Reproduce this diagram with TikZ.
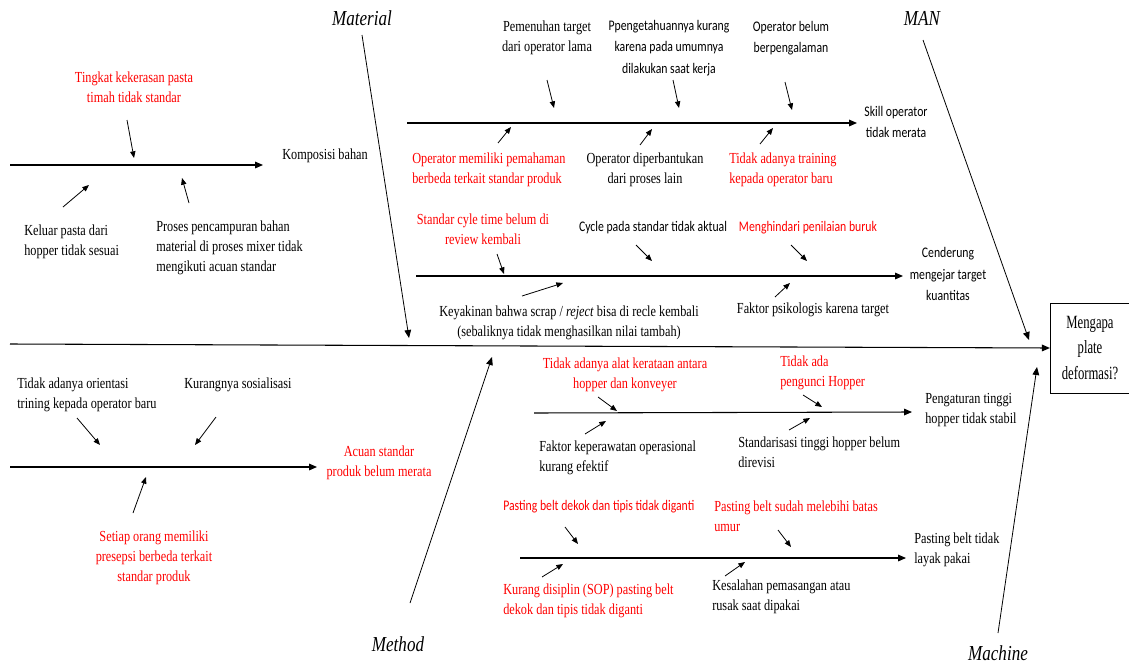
\documentclass[tikz,border=0pt]{standalone}
\usepackage{fontspec}
\setmainfont{Liberation Serif}[FakeStretch=0.8]
\newfontfamily\calib{Carlito}[FakeStretch=0.8]
\newfontfamily\boxfont{Liberation Serif}[FakeStretch=0.68]
\usetikzlibrary{arrows.meta}
\definecolor{causered}{RGB}{255,0,0}

\begin{document}
\begin{tikzpicture}[x=0.75pt,y=-0.75pt,
  spine/.style={line width=0.8pt,-{Triangle[length=6pt,width=5pt]}},
  bone/.style={line width=0.6pt,-{Triangle[length=6pt,width=5pt]}},
  sub/.style={line width=0.8pt,-{Triangle[length=6pt,width=5pt]}},
  cause/.style={line width=0.6pt,-{Triangle[length=5pt,width=4pt]}},
  txt/.style={font=\fontsize{11.5}{15}\selectfont,inner sep=0pt,align=center},
  stxt/.style={font=\calib\fontsize{11}{16}\selectfont,inner sep=0pt,align=center},
  lft/.style={anchor=west,align=left},
  hot/.style={text=causered},
  cat/.style={font=\itshape\fontsize{16}{18}\selectfont,inner sep=0pt}]
\useasboundingbox (0,0) rectangle (1129,664);

% effect box and spine
\node[draw,line width=0.6pt,minimum width=59.5pt,minimum height=67.5pt,inner sep=0pt,
  font=\boxfont\fontsize{14}{19}\selectfont,align=center] (effect) at (1090,348)
  {Mengapa\\plate\\deformasi?};
\coordinate (tail) at (10,344);
\draw[spine] (tail) -- (effect.west);

% category labels and their bones
\node[cat] (material) at (362,18) {Material};
\node[cat] (man) at (922,18) {MAN};
\node[cat] (method) at (398,644) {Method};
\node[cat] (machine) at (998,653) {Machine};
\coordinate (materialA) at (362,35);  \coordinate (materialB) at (409,338);
\coordinate (manA) at (923,40);       \coordinate (manB) at (1029,340);
\coordinate (methodA) at (410,603);   \coordinate (methodB) at (492,357);
\coordinate (machineA) at (998,633);  \coordinate (machineB) at (1037,367);
\draw[bone] (materialA) -- (materialB);
\draw[bone] (manA) -- (manB);
\draw[bone] (methodA) -- (methodB);
\draw[bone] (machineA) -- (machineB);

% Material: komposisi bahan
\node[txt,lft] (komposisi) at (282,156) {Komposisi bahan};
\node[txt,hot] (kekerasan) at (134,87) {Tingkat kekerasan pasta\\timah tidak standar};
\node[txt,lft] (keluar) at (24,242) {Keluar pasta dari\\hopper tidak sesuai};
\node[txt,lft] (pencampuran) at (156,248) {Proses pencampuran bahan\\material di proses mixer tidak\\mengikuti acuan standar};
\coordinate (k0) at (10,165);  \coordinate (k1) at (263,165);
\draw[sub] (k0) -- (k1);
\coordinate (k2) at (127,120); \coordinate (k3) at (134,158);
\coordinate (k4) at (63,207);  \coordinate (k5) at (89,185);
\coordinate (k6) at (189,203); \coordinate (k7) at (182,178);
\draw[cause] (k2) -- (k3);
\draw[cause] (k4) -- (k5);
\draw[cause] (k6) -- (k7);

% MAN: skill operator
\node[stxt] (skill) at (896,122) {Skill operator\\tidak merata};
\node[txt] (pemenuhan) at (547,38) {Pemenuhan target\\dari operator lama};
\node[stxt] (pengetahuan) at (669,48) {Ppengetahuannya kurang\\karena pada umumnya\\dilakukan saat kerja};
\node[stxt] (belum) at (791,38) {Operator belum\\berpengalaman};
\node[txt,lft,hot] (pemahaman) at (412,170) {Operator memiliki pemahaman\\berbeda terkait standar produk};
\node[txt] (diperbantukan) at (645,170) {Operator diperbantukan\\dari proses lain};
\node[txt,lft,hot] (training) at (729,170) {Tidak adanya training\\kepada operator baru};
\coordinate (s0) at (407,123); \coordinate (s1) at (857,123);
\draw[sub] (s0) -- (s1);
\coordinate (s2) at (547,80);  \coordinate (s3) at (554,108);
\coordinate (s4) at (673,80);  \coordinate (s5) at (679,108);
\coordinate (s6) at (785,82);  \coordinate (s7) at (792,110);
\coordinate (s8) at (498,143); \coordinate (s9) at (511,127);
\coordinate (s10) at (640,145); \coordinate (s11) at (652,129);
\coordinate (s12) at (760,144); \coordinate (s13) at (773,128);
\draw[cause] (s2) -- (s3);
\draw[cause] (s4) -- (s5);
\draw[cause] (s6) -- (s7);
\draw[cause] (s8) -- (s9);
\draw[cause] (s10) -- (s11);
\draw[cause] (s12) -- (s13);

% MAN: mengejar target
\node[stxt] (cenderung) at (948,274) {Cenderung\\mengejar target\\kuantitas};
\node[txt,hot] (cyletime) at (483,229) {Standar cyle time belum di\\review kembali};
\node[stxt] (aktual) at (653,228) {Cycle pada standar tidak aktual};
\node[stxt,hot] (menghindari) at (808,228) {Menghindari penilaian buruk};
\node[txt] (keyakinan) at (569,323) {Keyakinan bahwa scrap / \textit{reject} bisa di recle kembali\\(sebaliknya tidak menghasilkan nilai tambah)};
\node[txt] (psikologis) at (813,310) {Faktor psikologis karena target};
\coordinate (c0) at (416,276); \coordinate (c1) at (903,276);
\draw[sub] (c0) -- (c1);
\coordinate (c2) at (497,254); \coordinate (c3) at (504,274);
\coordinate (c4) at (636,245); \coordinate (c5) at (652,261);
\coordinate (c6) at (791,245); \coordinate (c7) at (807,261);
\coordinate (c8) at (522,296); \coordinate (c9) at (563,283);
\coordinate (c10) at (775,297); \coordinate (c11) at (790,283);
\draw[cause] (c2) -- (c3);
\draw[cause] (c4) -- (c5);
\draw[cause] (c6) -- (c7);
\draw[cause] (c8) -- (c9);
\draw[cause] (c10) -- (c11);

% Method: acuan standar
\node[txt,hot] (acuan) at (379,463) {Acuan standar\\produk belum merata};
\node[txt,lft] (orientasi) at (17,395) {Tidak adanya orientasi\\trining kepada operator baru};
\node[txt,lft] (sosialisasi) at (184,385) {Kurangnya sosialisasi};
\node[txt,hot] (presepsi) at (154,558) {Setiap orang memiliki\\presepsi berbeda terkait\\standar produk};
\coordinate (a0) at (10,467);  \coordinate (a1) at (317,467);
\draw[sub] (a0) -- (a1);
\coordinate (a2) at (77,418);  \coordinate (a3) at (100,445);
\coordinate (a4) at (216,417); \coordinate (a5) at (195,445);
\coordinate (a6) at (133,513); \coordinate (a7) at (146,477);
\draw[cause] (a2) -- (a3);
\draw[cause] (a4) -- (a5);
\draw[cause] (a6) -- (a7);

% Machine: tinggi hopper
\node[txt,lft] (pengaturan) at (925,410) {Pengaturan tinggi\\hopper tidak stabil};
\node[txt,hot] (kerataan) at (625,375) {Tidak adanya alat kerataan antara\\hopper dan konveyer};
\node[txt,lft,hot] (pengunci) at (780,373) {Tidak ada\\pengunci Hopper};
\node[txt,lft] (keperawatan) at (539,458) {Faktor keperawatan operasional\\kurang efektif};
\node[txt,lft] (standarisasi) at (738,452) {Standarisasi tinggi hopper belum\\direvisi};
\coordinate (h0) at (534,413); \coordinate (h1) at (912,412);
\draw[sub] (h0) -- (h1);
\coordinate (h2) at (598,397); \coordinate (h3) at (617,411);
\coordinate (h4) at (803,395); \coordinate (h5) at (822,407);
\coordinate (h6) at (585,434); \coordinate (h7) at (606,421);
\coordinate (h8) at (789,430); \coordinate (h9) at (810,418);
\draw[cause] (h2) -- (h3);
\draw[cause] (h4) -- (h5);
\draw[cause] (h6) -- (h7);
\draw[cause] (h8) -- (h9);

% Machine: pasting belt
\node[txt,lft] (layak) at (914,550) {Pasting belt tidak\\layak pakai};
\node[stxt,lft,hot] (dekok) at (503,507) {Pasting belt dekok dan tipis tidak diganti};
\node[txt,lft,hot] (umur) at (714,516) {Pasting belt sudah melebihi batas\\umur};
\node[txt,lft,hot] (disiplin) at (503,601) {Kurang disiplin (SOP) pasting belt\\dekok dan tipis tidak diganti};
\node[txt,lft] (pemasangan) at (712,597) {Kesalahan pemasangan atau\\rusak saat dipakai};
\coordinate (p0) at (520,558); \coordinate (p1) at (906,558);
\draw[sub] (p0) -- (p1);
\coordinate (p2) at (565,527); \coordinate (p3) at (578,544);
\coordinate (p4) at (778,530); \coordinate (p5) at (791,547);
\coordinate (p6) at (542,577); \coordinate (p7) at (563,564);
\coordinate (p8) at (725,576); \coordinate (p9) at (745,562);
\draw[cause] (p2) -- (p3);
\draw[cause] (p4) -- (p5);
\draw[cause] (p6) -- (p7);
\draw[cause] (p8) -- (p9);
\end{tikzpicture}
\end{document}
